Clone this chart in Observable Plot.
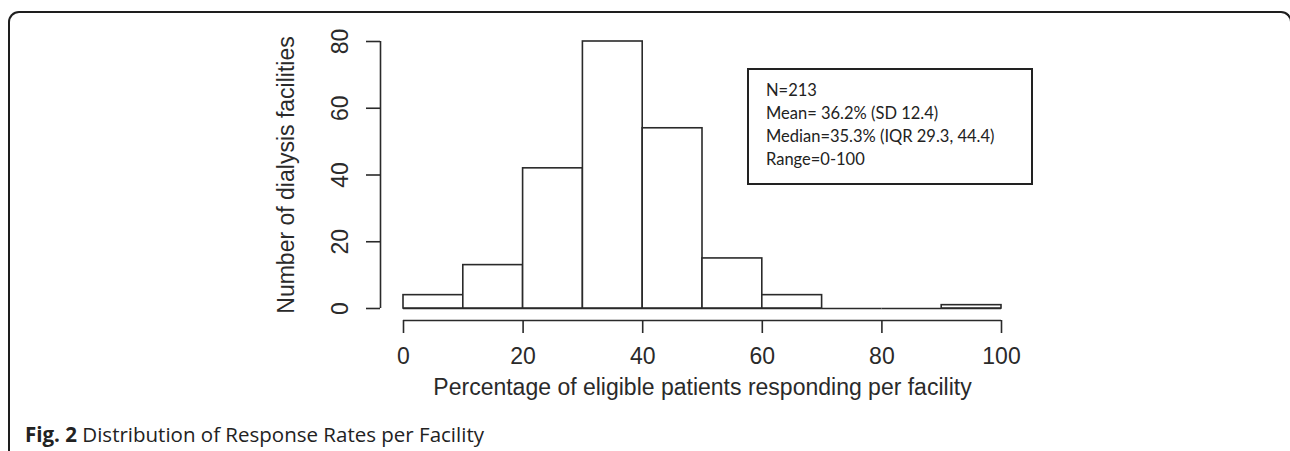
<!DOCTYPE html>
<html>
<head>
<meta charset="utf-8">
<script src="https://cdn.jsdelivr.net/npm/d3@7"></script>
<script src="https://cdn.jsdelivr.net/npm/@observablehq/plot@0.6"></script>
<style>
  html, body { margin: 0; padding: 0; background: #fff; }
  #wrap { position: relative; width: 1290px; height: 451px; overflow: hidden; background: #fff; }
  #frame { position: absolute; left: 8px; top: 11px; width: 1280px; height: 460px;
           border: 2px solid #1e1e1e; border-bottom: none; border-radius: 11px 11px 0 0; }
  #chart { position: absolute; left: 0; top: 0; }
  #legend { position: absolute; left: 747px; top: 68px; width: 265px; height: 104px;
            border: 2px solid #222; padding: 9px 0 0 17px; font-family: Lato, "Open Sans", sans-serif;
            font-size: 16.5px; color: #222; line-height: 23px; box-sizing: content-box; }
  #legend div { white-space: nowrap; }
  #caption { position: absolute; left: 25px; top: 423px; font-family: "Open Sans", "Noto Sans", sans-serif;
             font-size: 20.5px; color: #222; line-height: 22px; white-space: nowrap; }
  #caption b { font-weight: 700; }
</style>
</head>
<body>
<div id="wrap">
  <div id="frame"></div>
  <div id="chart"></div>
  <div id="legend"></div>
  <div id="caption"></div>
</div>
<script>
// ---- data ----
const binStarts = [0, 10, 20, 30, 40, 50, 60, 70, 80, 90];
const binWidth = 10;
const counts = [4, 13, 42, 80, 54, 15, 4, 0, 0, 1];
const xTicks = [0, 20, 40, 60, 80, 100];
const yTicks = [0, 20, 40, 60, 80];
const xLabel = "Percentage of eligible patients responding per facility";
const yLabel = "Number of dialysis facilities";
const legendLines = ["N=213", "Mean= 36.2% (SD 12.4)", "Median=35.3% (IQR 29.3, 44.4)", "Range=0-100"];
const captionBold = "Fig. 2";
const captionText = " Distribution of Response Rates per Facility";

const bins = binStarts.map((lo, i) => ({lo, hi: lo + binWidth, count: counts[i]}));
const ink = "#2a2a2a";
const fs = 23;

const chart = Plot.plot({
  width: 1290,
  height: 420,
  marginLeft: 403,
  marginRight: 289,
  marginTop: 41,
  marginBottom: 112,
  style: {fontFamily: "'Liberation Sans', Arial, sans-serif", color: ink, background: "transparent"},
  x: {domain: [0, 100], axis: null},
  y: {domain: [0, 80], axis: null},
  marks: [
    Plot.ruleY(bins, {x1: "lo", x2: "hi", y: 0, stroke: ink, strokeWidth: 1.6}),
    Plot.rectY(bins, {x1: "lo", x2: "hi", y: "count", fill: "white", stroke: ink, strokeWidth: 1.6}),
    // x axis (offset below plot, R style)
    Plot.ruleY([0], {x1: xTicks[0], x2: xTicks[xTicks.length - 1], dy: 12, stroke: ink, strokeWidth: 1.6}),
    Plot.axisX(xTicks, {tickSize: 13, dy: 12, tickFormat: () => "", label: null, stroke: ink, strokeWidth: 1.6}),
    Plot.text(xTicks, {x: d => d, frameAnchor: "bottom", dy: 55, text: d => String(d), fontSize: fs, fill: ink}),
    Plot.text([xLabel], {frameAnchor: "bottom", dy: 86, text: d => d, fontSize: fs, fill: ink}),
    // y axis
    Plot.ruleX([0], {y1: yTicks[0], y2: yTicks[yTicks.length - 1], dx: -23, stroke: ink, strokeWidth: 1.6}),
    Plot.axisY(yTicks, {tickSize: 14, dx: -23, tickFormat: () => "", label: null, stroke: ink, strokeWidth: 1.6}),
    Plot.text(yTicks, {y: d => d, frameAnchor: "left", dx: -63, rotate: -90, textAnchor: "middle", text: d => String(d), fontSize: fs, fill: ink}),
    Plot.text([yLabel], {frameAnchor: "left", dx: -117, rotate: -90, textAnchor: "middle", text: d => d, fontSize: fs, fill: ink})
  ]
});
document.getElementById("chart").appendChild(chart);

const leg = document.getElementById("legend");
legendLines.forEach(t => { const d = document.createElement("div"); d.textContent = t; leg.appendChild(d); });

const cap = document.getElementById("caption");
const b = document.createElement("b"); b.textContent = captionBold; cap.appendChild(b);
cap.appendChild(document.createTextNode(captionText));
</script>
</body>
</html>
